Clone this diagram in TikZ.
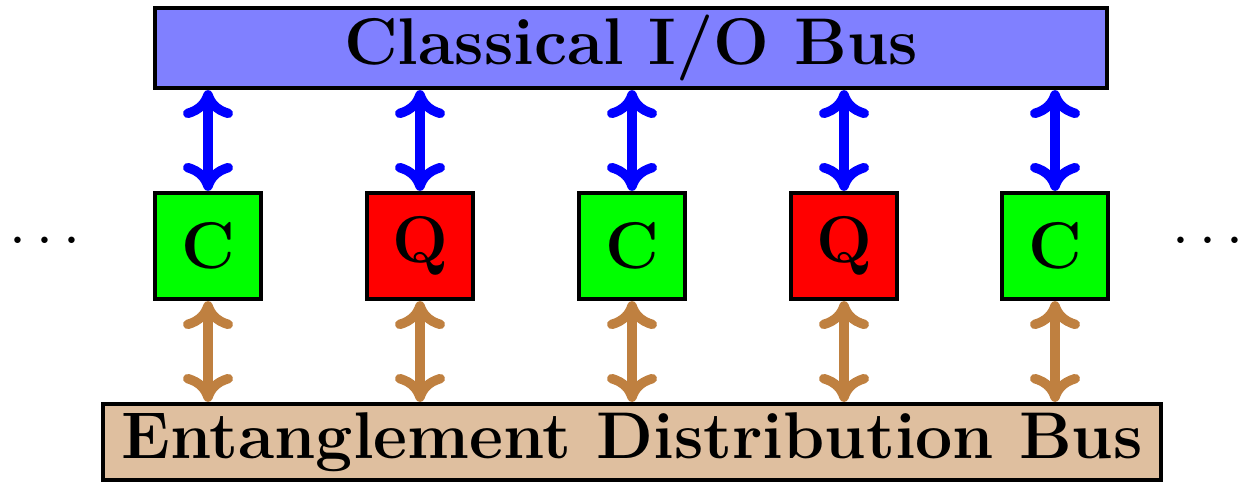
\documentclass[tikz,border=0pt]{standalone}
\usetikzlibrary{positioning}
\usetikzlibrary{arrows.meta}
\usetikzlibrary{calc}

\begin{document}
\begin{tikzpicture}[none/.style={},
      bus/.style={draw=black, line width=1.2pt, inner sep=0pt, font=\fontsize{18.8}{22}\selectfont\bfseries},
      cnode/.style={draw=black, line width=1.2pt, fill=green, minimum size=1.06cm, inner sep=0pt, font=\fontsize{18.8}{22}\selectfont\bfseries},
      qnode/.style={cnode, fill=red},
      clink/.style={draw=blue, line width=2.7pt, {Computer Modern Rightarrow[round, length=2.8mm, width=5mm]}-{Computer Modern Rightarrow[round, length=2.8mm, width=5mm]}},
      elink/.style={clink, draw=brown}
    ]
    \useasboundingbox (0,0) rectangle (12.48,-4.85);
    % buses
    \node [bus, fill=blue!50, minimum width=9.52cm, minimum height=0.8cm] (io) at (6.31,-0.48) {Classical I/O Bus};
    \node [bus, fill=brown!50, minimum width=10.58cm, minimum height=0.76cm] (ent) at (6.32,-4.42) {Entanglement Distribution Bus};

    % nodes
    \node [cnode] (c1) at (2.08,-2.46) {C};
    \node [qnode] (q1) at (4.20,-2.46) {Q};
    \node [cnode] (c2) at (6.32,-2.46) {C};
    \node [qnode] (q2) at (8.44,-2.46) {Q};
    \node [cnode] (c3) at (10.55,-2.46) {C};
    \node [none, font=\fontsize{18.8}{22}\selectfont] (ldots) at (0.45,-2.42) {$\cdots$};
    \node [none, font=\fontsize{18.8}{22}\selectfont] (rdots) at (12.08,-2.42) {$\cdots$};

    % links
    \draw[clink] (c1.north |- io.south) -- (c1.north);
    \draw[clink] (q1.north |- io.south) -- (q1.north);
    \draw[clink] (c2.north |- io.south) -- (c2.north);
    \draw[clink] (q2.north |- io.south) -- (q2.north);
    \draw[clink] (c3.north |- io.south) -- (c3.north);
    \draw[elink] (c1.south) -- (c1.south |- ent.north);
    \draw[elink] (q1.south) -- (q1.south |- ent.north);
    \draw[elink] (c2.south) -- (c2.south |- ent.north);
    \draw[elink] (q2.south) -- (q2.south |- ent.north);
    \draw[elink] (c3.south) -- (c3.south |- ent.north);
\end{tikzpicture}
\end{document}
